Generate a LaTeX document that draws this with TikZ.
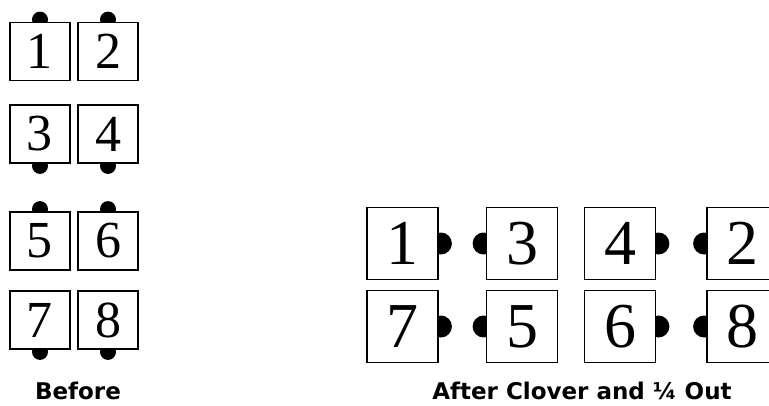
\documentclass[tikz,border=0pt]{standalone}
\usepackage{fontspec}
\setmainfont{Liberation Serif}
\newfontfamily\capfont{DejaVu Sans}
\usetikzlibrary{positioning}
\pgfdeclarelayer{bg}
\pgfsetlayers{bg,main}

\begin{document}
\begin{tikzpicture}[
    x=1pt, y=-1pt,
    page/.style={draw, line width=1.8pt, fill=white, inner sep=0pt,
        minimum width=60pt, minimum height=58pt,
        font=\fontsize{52}{52}\selectfont},
    bigpage/.style={page, minimum width=71pt, minimum height=72pt,
        font=\fontsize{64}{64}\selectfont},
    title/.style={font=\capfont\bfseries\fontsize{23}{23}\selectfont},
]
\useasboundingbox (0,0) rectangle (769,405);
\clip (0,0) rectangle (769,405);

% before: two columns of pages
\foreach \n/\x/\y in {1/40/51.5, 2/108/51.5, 3/40/134, 4/108/134,
                      5/40/241, 6/108/241, 7/40/320, 8/108/320}{
    \node[page] (b\n) at (\x,\y) {\n};
}

% after clover and a quarter out
\foreach \n/\x/\y in {1/402.5/243.5, 3/522/243.5, 4/620/243.5, 2/742.5/243.5,
                      7/402.5/326.5, 5/522/326.5, 6/620/326.5, 8/742.5/326.5}{
    \node[bigpage] (a\n) at (\x,\y) {\n};
}

% the punched tabs, behind the pages
\begin{pgfonlayer}{bg}
\foreach \n in {1,2,5,6}
    \fill ([yshift=2pt]b\n.north) circle (8pt);
\foreach \n in {3,4,7,8}
    \fill ([yshift=-2pt]b\n.south) circle (8pt);
\foreach \n in {1,4,7,6}
    \fill ([xshift=2pt]a\n.east) circle (11pt);
\foreach \n in {3,2,5,8}
    \fill ([xshift=-2pt]a\n.west) circle (11pt);
\end{pgfonlayer}

\node[title] (before) at (78,391) {Before};
\node[title] (after) at (582,391) {After Clover and ¼ Out};
\end{tikzpicture}
\end{document}
